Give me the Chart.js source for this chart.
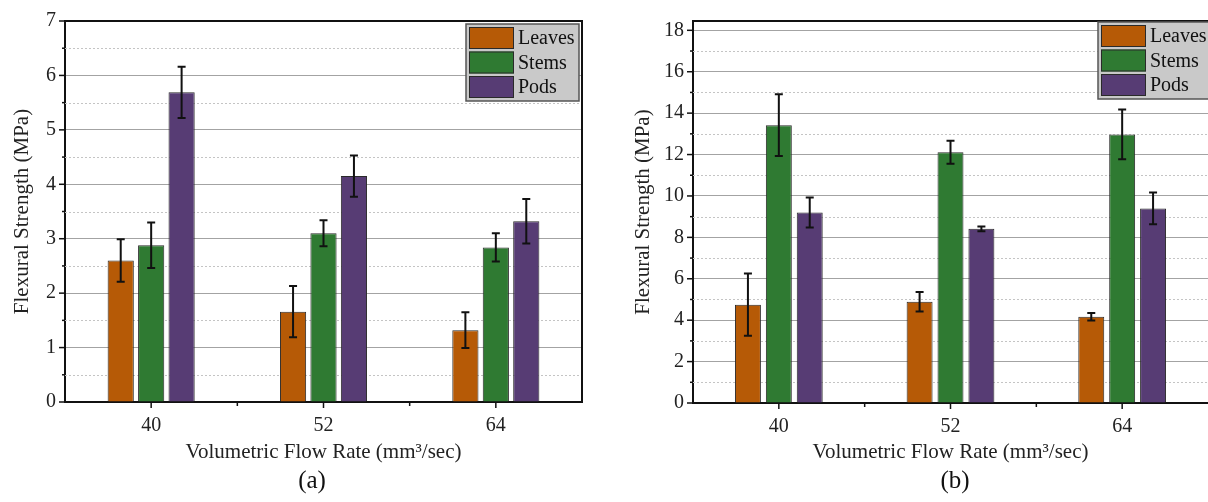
<!DOCTYPE html>
<html lang="en">
<head>
    <meta charset="UTF-8">
    <title>Flexural strength vs volumetric flow rate</title>
    <script src="https://cdn.jsdelivr.net/npm/chart.js"></script>
    <style>
        body {
            margin: 0;
            background: #fff;
            width: 1208px;
            height: 502px;
            overflow: hidden;
            position: relative;
            font-family: "Liberation Serif", "Times New Roman", serif;
        }
        .panel {
            position: absolute;
            top: 0;
            width: 604px;
            height: 502px;
        }
        .tag {
            position: absolute;
            top: 465px;
            font-size: 25px;
            line-height: 30px;
            color: #111;
            transform: translateX(-50%);
        }
    </style>
</head>
<body>
    <div class="panel" style="left:0"><canvas id="chartA"></canvas></div>
    <div class="panel" style="left:604px"><canvas id="chartB"></canvas></div>
    <div class="tag" style="left:312px">(a)</div>
    <div class="tag" style="left:955px">(b)</div>
    <script>
        // categories and series
        const categories = ['40', '52', '64'];
        const seriesNames = ['Leaves', 'Stems', 'Pods'];
        const seriesColors = ['#b65a06', '#2f7a32', '#573c74'];

        // panel (a) values and error bars (MPa)
        const leavesA = [2.60, 1.66, 1.32];
        const stemsA = [2.88, 3.10, 2.84];
        const podsA = [5.69, 4.15, 3.32];
        const leavesErrA = [0.39, 0.47, 0.33];
        const stemsErrA = [0.42, 0.24, 0.26];
        const podsErrA = [0.47, 0.38, 0.41];

        // panel (b) values and error bars (MPa)
        const leavesB = [4.75, 4.89, 4.17];
        const stemsB = [13.42, 12.11, 12.97];
        const podsB = [9.20, 8.41, 9.40];
        const leavesErrB = [1.50, 0.47, 0.18];
        const stemsErrB = [1.49, 0.56, 1.20];
        const podsErrB = [0.72, 0.12, 0.77];

        // y ticks
        const majorTicksA = [0, 1, 2, 3, 4, 5, 6, 7];
        const minorTicksA = [0.5, 1.5, 2.5, 3.5, 4.5, 5.5, 6.5];
        const majorTicksB = [0, 2, 4, 6, 8, 10, 12, 14, 16, 18];
        const minorTicksB = [1, 3, 5, 7, 9, 11, 13, 15, 17];

        const FONT = '"Liberation Serif", "Times New Roman", serif';

        // gridlines, ticks, frame, error bars and legend
        const panelDecor = {
            id: 'panelDecor',
            beforeDatasetsDraw(chart, args, opts) {
                const { ctx, chartArea } = chart;
                const y = chart.scales.y;
                ctx.save();
                ctx.strokeStyle = '#c4c4c4';
                ctx.lineWidth = 1;
                ctx.setLineDash([2, 2]);
                opts.minorTicks.forEach(v => {
                    const py = Math.round(y.getPixelForValue(v)) + 0.5;
                    ctx.beginPath();
                    ctx.moveTo(chartArea.left, py);
                    ctx.lineTo(chartArea.right, py);
                    ctx.stroke();
                });
                ctx.restore();
            },
            afterDatasetsDraw(chart, args, opts) {
                const { ctx } = chart;
                const y = chart.scales.y;
                ctx.save();
                ctx.strokeStyle = '#111';
                ctx.lineWidth = 2;
                chart.data.datasets.forEach((ds, di) => {
                    const meta = chart.getDatasetMeta(di);
                    meta.data.forEach((bar, i) => {
                        const v = ds.data[i];
                        const e = opts.errors[di][i];
                        const top = y.getPixelForValue(v + e);
                        const bot = y.getPixelForValue(v - e);
                        ctx.beginPath();
                        ctx.moveTo(bar.x, top);
                        ctx.lineTo(bar.x, bot);
                        ctx.moveTo(bar.x - 4, top);
                        ctx.lineTo(bar.x + 4, top);
                        ctx.moveTo(bar.x - 4, bot);
                        ctx.lineTo(bar.x + 4, bot);
                        ctx.stroke();
                    });
                });
                ctx.restore();
            },
            afterDraw(chart, args, opts) {
                const { ctx, chartArea } = chart;
                const x = chart.scales.x;
                const y = chart.scales.y;
                ctx.save();

                // frame: top, and right where it is inside the picture
                ctx.strokeStyle = '#111';
                ctx.lineWidth = 2;
                ctx.beginPath();
                ctx.moveTo(chartArea.left, chartArea.top);
                ctx.lineTo(chartArea.right, chartArea.top);
                if (opts.rightFrame) ctx.lineTo(chartArea.right, chartArea.bottom);
                ctx.stroke();

                // y tick marks
                ctx.lineWidth = 1.5;
                opts.majorTicks.forEach(v => {
                    const py = y.getPixelForValue(v);
                    ctx.beginPath();
                    ctx.moveTo(chartArea.left - 6, py);
                    ctx.lineTo(chartArea.left, py);
                    ctx.stroke();
                });
                opts.minorTicks.forEach(v => {
                    const py = y.getPixelForValue(v);
                    ctx.beginPath();
                    ctx.moveTo(chartArea.left - 3, py);
                    ctx.lineTo(chartArea.left, py);
                    ctx.stroke();
                });

                // x tick marks at categories and between them
                categories.forEach((c, i) => {
                    const px = x.getPixelForValue(i);
                    ctx.beginPath();
                    ctx.moveTo(px, chartArea.bottom);
                    ctx.lineTo(px, chartArea.bottom + 6);
                    ctx.stroke();
                    if (i > 0) {
                        const bx = (px + x.getPixelForValue(i - 1)) / 2;
                        ctx.beginPath();
                        ctx.moveTo(bx, chartArea.bottom);
                        ctx.lineTo(bx, chartArea.bottom + 4);
                        ctx.stroke();
                    }
                });

                // legend box
                const lx = chartArea.right - opts.legendOffset;
                const ly = chartArea.top + opts.legendTop;
                ctx.fillStyle = '#c9c9c9';
                ctx.fillRect(lx, ly, 113, 77);
                ctx.strokeStyle = '#555';
                ctx.lineWidth = 1.5;
                ctx.strokeRect(lx, ly, 113, 77);
                ctx.font = '20px ' + FONT;
                ctx.textBaseline = 'middle';
                chart.data.datasets.forEach((ds, i) => {
                    const sy = ly + 3 + i * 24.5;
                    ctx.fillStyle = ds.backgroundColor;
                    ctx.fillRect(lx + 3, sy, 45, 22);
                    ctx.strokeStyle = '#2a2a2a';
                    ctx.lineWidth = 1;
                    ctx.strokeRect(lx + 3.5, sy + 0.5, 44, 21);
                    ctx.fillStyle = '#111';
                    ctx.fillText(ds.label, lx + 52, sy + 12);
                });
                ctx.restore();
            }
        };

        function makePanel(canvasId, values, errors, majors, minors, yMax, axisWidth, padRight, xHeight, titlePad, legendOffset, legendTop, catPct, barPct, rightFrame) {
            return new Chart(document.getElementById(canvasId), {
                type: 'bar',
                data: {
                    labels: categories,
                    datasets: seriesNames.map((name, i) => ({
                        label: name,
                        data: values[i],
                        backgroundColor: seriesColors[i],
                        borderColor: '#2a2a2a',
                        borderWidth: 1,
                        categoryPercentage: catPct,
                        barPercentage: barPct
                    }))
                },
                options: {
                    responsive: true,
                    maintainAspectRatio: false,
                    animation: false,
                    layout: { padding: { left: 0, right: padRight, top: 20, bottom: 0 } },
                    plugins: {
                        legend: { display: false },
                        tooltip: { enabled: false },
                        panelDecor: {
                            errors: errors,
                            majorTicks: majors,
                            minorTicks: minors,
                            legendOffset: legendOffset,
                            legendTop: legendTop,
                            rightFrame: rightFrame
                        }
                    },
                    scales: {
                        x: {
                            type: 'category',
                            offset: true,
                            grid: { display: true, drawOnChartArea: false, drawTicks: false },
                            border: { display: true, color: '#111', width: 2 },
                            ticks: { color: '#222', padding: 12, font: { family: FONT, size: 20 } },
                            title: {
                                display: true,
                                text: 'Volumetric Flow Rate (mm³/sec)',
                                color: '#222',
                                font: { family: FONT, size: 21 },
                                padding: { top: 0, bottom: 37 }
                            },
                            afterFit(scale) { scale.height = xHeight; }
                        },
                        y: {
                            min: 0,
                            max: yMax,
                            afterBuildTicks(scale) { scale.ticks = majors.map(v => ({ value: v })); },
                            grid: { color: '#a3a3a3', lineWidth: 1, drawTicks: false },
                            border: { display: true, color: '#111', width: 2 },
                            ticks: { color: '#222', padding: 9, font: { family: FONT, size: 20 } },
                            title: {
                                display: true,
                                text: 'Flexural Strength (MPa)',
                                color: '#222',
                                font: { family: FONT, size: 21 },
                                padding: { top: titlePad, bottom: 0 }
                            },
                            afterFit(scale) { scale.width = axisWidth; }
                        }
                    }
                },
                plugins: [panelDecor]
            });
        }

        makePanel('chartA',
            [leavesA, stemsA, podsA],
            [leavesErrA, stemsErrA, podsErrA],
            majorTicksA, minorTicksA, 7, 65, 22, 100, 10, 116, 3, 0.53, 0.86, true);

        makePanel('chartB',
            [leavesB, stemsB, podsB],
            [leavesErrB, stemsErrB, podsErrB],
            majorTicksB, minorTicksB, 18.45, 89, 0, 99, 27, 110, 1, 0.54, 0.84, false);
    </script>
</body>
</html>
